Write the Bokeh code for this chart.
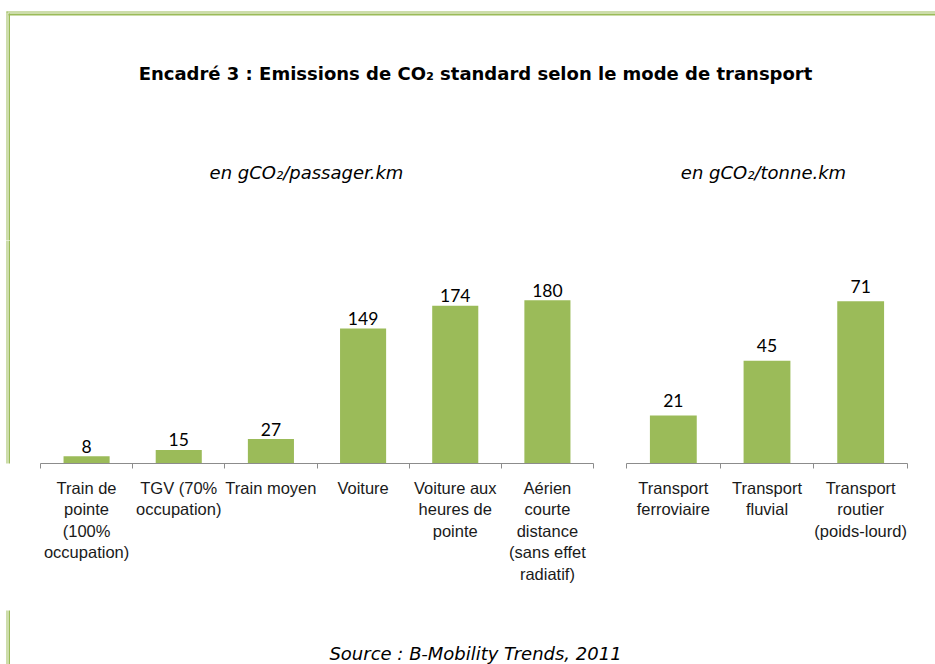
from bokeh.plotting import figure
from bokeh.layouts import column, row
from bokeh.models import Range1d, FixedTicker, ColumnDataSource
from bokeh.core.properties import value
from bokeh.embed import file_html
from bokeh.resources import INLINE

# ---------------- data ----------------
title_text = "Encadré 3 : Emissions de CO₂ standard selon le mode de transport"
left_unit = "en gCO₂/passager.km"
right_unit = "en gCO₂/tonne.km"
source_text = "Source : B-Mobility Trends, 2011"

left_categories = [
    "Train de\npointe\n(100%\noccupation)",
    "TGV (70%\noccupation)",
    "Train moyen",
    "Voiture",
    "Voiture aux\nheures de\npointe",
    "Aérien\ncourte\ndistance\n(sans effet\nradiatif)",
]
left_values = [8, 15, 27, 149, 174, 180]

right_categories = [
    "Transport\nferroviaire",
    "Transport\nfluvial",
    "Transport\nroutier\n(poids-lourd)",
]
right_values = [21, 45, 71]

# ---------------- style ----------------
GREEN = "#9BBB59"
AXIS_GRAY = "#8c8c8c"
WORD_FONT = "DejaVu Sans"
W, H = 935, 664
TOP_H, MID_H = 240, 370
BOT_H = H - TOP_H - MID_H


def blank(w, h):
    p = figure(width=w, height=h, x_range=Range1d(0, w), y_range=Range1d(0, h),
               toolbar_location=None, output_backend="svg", title=None,
               x_axis_location=None, y_axis_location=None,
               min_border=0, min_border_left=0, min_border_right=0,
               min_border_top=0, min_border_bottom=0)
    p.grid.visible = False
    p.outline_line_color = None
    p.background_fill_color = "white"
    p.border_fill_color = "white"
    return p


def frame_left(p, h, y_top):
    # double frame line on the left: thin outer, thicker inner
    p.quad(left=[6, 8], right=[7, 9.5], top=[h - y_top, h - y_top - 2],
           bottom=[-5, -5], fill_color=GREEN, line_color=None)


# top block: frame lines, title, units
top = blank(W, TOP_H)
top.hbar(y=[TOP_H - 11.5, TOP_H - 14], left=[6, 8], right=[W + 5, W + 5],
         height=[1, 2], fill_color=GREEN, line_color=None)
frame_left(top, TOP_H, 11)
top.text(x=[475], y=[TOP_H - 73], text=[title_text], text_font=value(WORD_FONT),
         text_font_style="bold", text_font_size="18px", text_align="center",
         text_baseline="middle", text_color="black")
top.text(x=[306, 763], y=[TOP_H - 172, TOP_H - 172], text=[left_unit, right_unit],
         text_font=value(WORD_FONT), text_font_style="italic",
         text_font_size="18px", text_align="center", text_baseline="middle",
         text_color="black")

# left strip with frame lines
strip = blank(40, MID_H)
frame_left(strip, MID_H, -5)


def bar_chart(cats, vals, width, border_right, border_left, border_bottom,
              y_end, label_offset):
    n = len(cats)
    xs = [i + 0.5 for i in range(n)]
    p = figure(width=width, height=MID_H, x_range=Range1d(0, n),
               y_range=Range1d(0, y_end), toolbar_location=None, title=None,
               output_backend="svg", y_axis_location=None,
               x_axis_location="below",
               min_border=0, min_border_left=border_left,
               min_border_right=border_right, min_border_top=0,
               min_border_bottom=border_bottom)
    p.grid.visible = False
    p.outline_line_color = None
    p.background_fill_color = "white"
    p.border_fill_color = "white"
    src = ColumnDataSource(dict(x=xs, top=vals, lab=[str(v) for v in vals]))
    p.vbar(x="x", top="top", bottom=0, width=0.5, source=src,
           fill_color=GREEN, line_color=None)
    p.text(x="x", y="top", text="lab", source=src, text_font=value("Lato"),
           text_font_size="17.5px", text_align="center",
           text_baseline="alphabetic", y_offset=-label_offset,
           text_color="black")
    ax = p.xaxis[0]
    ax.ticker = FixedTicker(ticks=xs, minor_ticks=list(range(n + 1)))
    ax.major_label_overrides = {x: c for x, c in zip(xs, cats)}
    ax.major_tick_line_color = None
    ax.major_tick_out = 0
    ax.major_tick_in = 0
    ax.minor_tick_out = 5
    ax.minor_tick_in = 0
    ax.minor_tick_line_color = AXIS_GRAY
    ax.axis_line_color = AXIS_GRAY
    ax.major_label_text_font = "Liberation Sans"
    ax.major_label_text_font_size = "16.5px"
    ax.major_label_text_color = "#1a1a1a"
    ax.major_label_standoff = 10
    ax.major_label_orientation = "horizontal"
    return p


left = bar_chart(left_categories, left_values, 565, 12, 0, 147, 245.9, 10)
right = bar_chart(right_categories, right_values, W - 605, 28, 21, 141, 97.6, 15)

bottom = blank(W, BOT_H)
frame_left(bottom, BOT_H, -5)
bottom.text(x=[475], y=[BOT_H - 43], text=[source_text], text_font=value(WORD_FONT),
            text_font_style="italic", text_font_size="18px",
            text_align="center", text_baseline="middle", text_color="black")

layout = column(top, row(strip, left, right), bottom)

open("out.html", "w").write(file_html(layout, INLINE))
